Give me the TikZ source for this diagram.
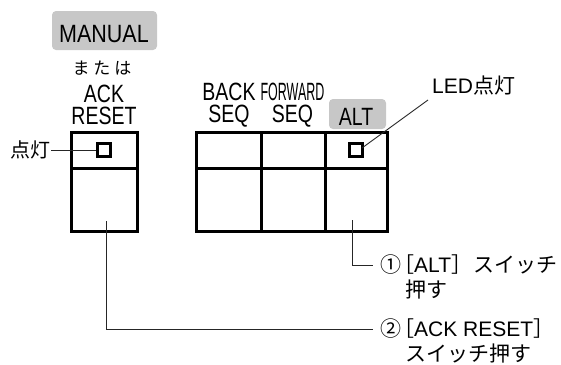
\documentclass[tikz,border=0pt]{standalone}
\usepackage{fontspec}
\setmainfont{Liberation Sans}
\newfontfamily\cond[FakeStretch=0.78]{Liberation Sans}
\newfontfamily\condw[FakeStretch=0.86]{Liberation Sans}
\newfontfamily\jp{Noto Sans CJK JP}
\begin{document}
\begin{tikzpicture}[x=1pt,y=-1pt,
  frame/.style={line width=3pt},
  tag/.style={fill=black!22, rounded corners=4pt, inner sep=0pt},
  big/.style={font=\cond\fontsize{25}{22}\selectfont, inner sep=0pt, align=center},
  led/.style={draw, line width=2.6pt, minimum size=13pt, inner sep=0pt},
  lead/.style={line width=0.9pt, black!85},
  jpl/.style={font=\jp\fontsize{21}{23}\selectfont, inner sep=0pt}
]
\useasboundingbox (0,0) rectangle (561,364);
% MANUAL tag
\node[tag, minimum width=105pt, minimum height=39pt] (manualtag) at (104.5,30.5) {};
\node[big, anchor=base, font=\condw\fontsize{25}{26}\selectfont] (manual) at (104,42) {MANUAL};
\node[jpl, anchor=base, font=\jp\fontsize{17}{18}\selectfont] (mataha) at (102,74) {ま\kern4pt た\kern4pt は};
\node[big] (ackreset) at (104,105) {ACK\\RESET};
% left box
\draw[frame] (71,132) rectangle (137,231);
\draw[frame] (71,168) -- (137,168);
\node[led] (ledL) at (104,150) {};
\node[jpl, anchor=east, font=\jp\fontsize{20}{22}\selectfont] (tento) at (51,150) {点灯};
\draw[lead] (tento.east) -- (ledL.west);
% right group labels
\node[big] (backseq) at (229,105.5) {BACK\\SEQ};
\node[big] (fwdseq) at (292.5,105.5) {\scalebox{0.64}[1]{FORWARD}\\SEQ};
\node[tag, minimum width=57pt, minimum height=30pt] (alttag) at (357.5,114) {};
\node[big, anchor=base] (alt) at (356,125) {ALT};
% right group box
\draw[frame] (196,132) rectangle (387,231);
\draw[frame] (196,168) -- (387,168);
\draw[frame] (261,132) -- (261,231);
\draw[frame] (325,132) -- (325,231);
\node[led] (ledR) at (356,150) {};
\node[anchor=west, inner sep=0pt, font=\fontsize{21}{23}\selectfont] (ledlbl) at (432,86) {LED{\jp 点灯}};
\coordinate (ledRend) at (362,148);
\coordinate (ledlblend) at (428,100);
\draw[lead] (ledRend) -- (ledlblend);
% bottom notes
\node[jpl, anchor=west] (note1) at (380,265) {①\kern-8pt［{\fontspec{Liberation Sans}ALT}］\kern1pt スイッチ};
\node[jpl, anchor=base west] (note1b) at (405,297) {押す};
\node[jpl, anchor=west] (note2) at (380,329) {②\kern-8pt［{\fontspec{Liberation Sans}ACK RESET}］};
\node[jpl, anchor=base west] (note2b) at (405,361) {スイッチ押す};
\coordinate (altcell) at (352,220);
\coordinate (ackcell) at (106,221);
\draw[lead] (altcell) |- ([xshift=-7pt]note1.west);
\draw[lead] (ackcell) |- ([xshift=-7pt]note2.west);
\end{tikzpicture}
\end{document}
